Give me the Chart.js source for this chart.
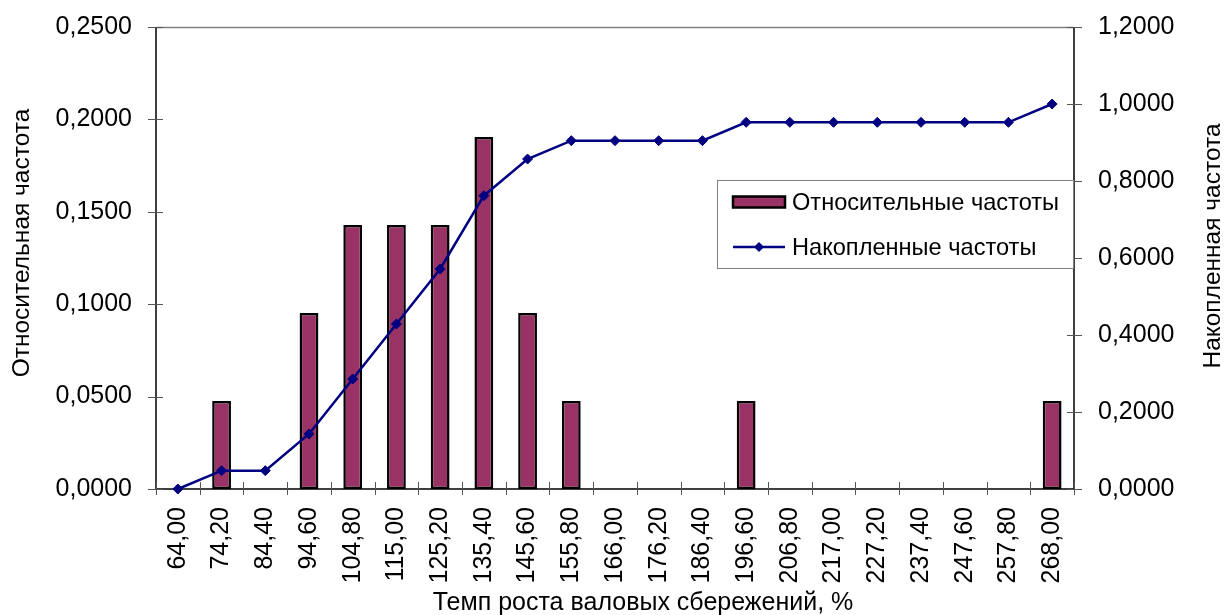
<!DOCTYPE html>
<html lang="ru">
<head>
<meta charset="utf-8">
<title>Относительные и накопленные частоты</title>
<script src="https://cdn.jsdelivr.net/npm/chart.js@4/dist/chart.umd.min.js"></script>
<style>
  html, body { margin: 0; padding: 0; background: #fff; }
  canvas { display: block; }
</style>
</head>
<body>
<canvas id="chart" width="1226" height="615"></canvas>
<script>
// Границы интервалов темпа роста, %
const categories = [
  '64,00', '74,20', '84,40', '94,60', '104,80', '115,00', '125,20',
  '135,40', '145,60', '155,80', '166,00', '176,20', '186,40', '196,60',
  '206,80', '217,00', '227,20', '237,40', '247,60', '257,80', '268,00'
];

// Относительные частоты (n = 21)
const relFreq = [
  0, 0.0476, 0, 0.0952, 0.1429, 0.1429, 0.1429,
  0.1905, 0.0952, 0.0476, 0, 0, 0, 0.0476,
  0, 0, 0, 0, 0, 0, 0.0476
];

// Накопленные частоты
const cumFreq = [
  0, 0.0476, 0.0476, 0.1429, 0.2857, 0.4286, 0.5714,
  0.7619, 0.8571, 0.9048, 0.9048, 0.9048, 0.9048, 0.9524,
  0.9524, 0.9524, 0.9524, 0.9524, 0.9524, 0.9524, 1.0
];

const leftTicks = { min: 0, max: 0.25, step: 0.05 };
const rightTicks = { min: 0, max: 1.2, step: 0.2 };

const seriesNames = ['Относительные частоты', 'Накопленные частоты'];
const axisTitles = {
  x: 'Темп роста валовых сбережений, %',
  y: 'Относительная частота',
  y1: 'Накопленная частота'
};

const FONT = '"Liberation Sans", Arial, sans-serif';
const BAR_FILL = '#993366';
const LINE_COLOR = '#000080';

const fmt = v => Number(v).toFixed(4).replace('.', ',');

// Оси, засечки, подписи осей и легенда в стиле Excel
const frameAndLegend = {
  id: 'frameAndLegend',
  beforeDatasetsDraw(chart) {
    const { ctx, chartArea: a, scales } = chart;
    ctx.save();
    // верхняя граница области построения
    ctx.strokeStyle = '#808080';
    ctx.lineWidth = 1.5;
    ctx.beginPath();
    ctx.moveTo(a.left, a.top + 0.5);
    ctx.lineTo(a.right, a.top + 0.5);
    ctx.stroke();
    // оси
    ctx.strokeStyle = '#000';
    ctx.lineWidth = 1.5;
    ctx.beginPath();
    ctx.moveTo(a.left, a.top);
    ctx.lineTo(a.left, a.bottom);
    ctx.moveTo(a.right, a.top);
    ctx.lineTo(a.right, a.bottom);
    ctx.moveTo(a.left, a.bottom);
    ctx.lineTo(a.right, a.bottom);
    ctx.stroke();
    // засечки
    ctx.strokeStyle = '#555';
    ctx.lineWidth = 1;
    ctx.beginPath();
    scales.y.ticks.forEach(t => {
      const y = Math.round(scales.y.getPixelForValue(t.value)) + 0.5;
      ctx.moveTo(a.left - 8, y);
      ctx.lineTo(a.left + 7, y);
    });
    scales.y1.ticks.forEach(t => {
      const y = Math.round(scales.y1.getPixelForValue(t.value)) + 0.5;
      ctx.moveTo(a.right - 7, y);
      ctx.lineTo(a.right + 8, y);
    });
    const n = categories.length;
    for (let i = 0; i <= n; i++) {
      const x = Math.round(a.left + (a.right - a.left) * i / n) + 0.5;
      ctx.moveTo(x, a.bottom - 7);
      ctx.lineTo(x, a.bottom + 6);
    }
    ctx.stroke();
    ctx.restore();
  },
  afterDraw(chart) {
    const { ctx, chartArea: a } = chart;
    ctx.save();
    ctx.fillStyle = '#000';
    ctx.textAlign = 'center';
    ctx.textBaseline = 'middle';
    // подпись оси X
    ctx.font = '25px ' + FONT;
    ctx.fillText(axisTitles.x, 643, 603);
    // подпись левой оси
    ctx.font = '24.5px ' + FONT;
    ctx.save();
    ctx.translate(22, 243);
    ctx.rotate(-Math.PI / 2);
    ctx.fillText(axisTitles.y, 0, 0);
    ctx.restore();
    // подпись правой оси
    ctx.save();
    ctx.translate(1213, 246);
    ctx.rotate(-Math.PI / 2);
    ctx.fillText(axisTitles.y1, 0, 0);
    ctx.restore();

    // легенда
    const L = { x: 717, y: 180, w: a.right - 718, h: 88 };
    ctx.fillStyle = '#fff';
    ctx.fillRect(L.x, L.y, L.w, L.h);
    ctx.strokeStyle = '#808080';
    ctx.lineWidth = 1;
    ctx.strokeRect(L.x + 0.5, L.y + 0.5, L.w, L.h);

    const row1 = L.y + 22, row2 = L.y + 67;
    const sx = L.x + 16, sw = 52;
    ctx.fillStyle = BAR_FILL;
    ctx.fillRect(sx, row1 - 5.5, sw, 11);
    ctx.strokeStyle = '#000';
    ctx.lineWidth = 2.5;
    ctx.strokeRect(sx, row1 - 5.5, sw, 11);

    ctx.strokeStyle = LINE_COLOR;
    ctx.lineWidth = 2.5;
    ctx.beginPath();
    ctx.moveTo(sx, row2);
    ctx.lineTo(sx + sw, row2);
    ctx.stroke();
    ctx.fillStyle = LINE_COLOR;
    const cx = sx + sw / 2, r = 5;
    ctx.beginPath();
    ctx.moveTo(cx, row2 - r);
    ctx.lineTo(cx + r, row2);
    ctx.lineTo(cx, row2 + r);
    ctx.lineTo(cx - r, row2);
    ctx.closePath();
    ctx.fill();

    ctx.fillStyle = '#000';
    ctx.font = '23.6px ' + FONT;
    ctx.textAlign = 'left';
    ctx.fillText(seriesNames[0], sx + sw + 7, row1 + 1);
    ctx.fillText(seriesNames[1], sx + sw + 7, row2 + 1);
    ctx.restore();
  }
};

const tickFont = { family: FONT, size: 25 };

// Фиксированные размеры осей, без дополнительных отступов под подписи
const fixSize = (w, h) => s => {
  if (w !== null) s.width = w;
  if (h !== null) s.height = h;
  s.paddingTop = 0;
  s.paddingBottom = 0;
};

new Chart(document.getElementById('chart'), {
  data: {
    labels: categories,
    datasets: [
      {
        type: 'line',
        label: seriesNames[1],
        data: cumFreq,
        yAxisID: 'y1',
        borderColor: LINE_COLOR,
        backgroundColor: LINE_COLOR,
        borderWidth: 2.5,
        pointStyle: 'rectRot',
        pointRadius: 5,
        pointBackgroundColor: LINE_COLOR,
        pointBorderColor: LINE_COLOR,
        pointBorderWidth: 1,
        tension: 0,
        clip: false,
        order: 0
      },
      {
        type: 'bar',
        label: seriesNames[0],
        data: relFreq,
        yAxisID: 'y',
        backgroundColor: BAR_FILL,
        borderColor: '#000',
        borderWidth: ctx => (ctx.raw ? 2.5 : 0),
        borderSkipped: false,
        barPercentage: 0.43,
        categoryPercentage: 1,
        order: 1
      }
    ]
  },
  options: {
    responsive: false,
    animation: false,
    devicePixelRatio: 1,
    layout: { padding: { top: 27, left: 0, right: 0, bottom: 0 } },
    plugins: {
      legend: { display: false },
      tooltip: { enabled: false }
    },
    scales: {
      x: {
        type: 'category',
        offset: true,
        grid: { display: false, drawTicks: false },
        border: { display: false },
        ticks: {
          color: '#000',
          font: tickFont,
          autoSkip: false,
          minRotation: 90,
          maxRotation: 90,
          padding: 18
        },
        afterFit: fixSize(null, 126)
      },
      y: {
        position: 'left',
        min: leftTicks.min,
        max: leftTicks.max,
        grid: { display: false, drawTicks: false },
        border: { display: false },
        ticks: {
          stepSize: leftTicks.step,
          color: '#000',
          font: tickFont,
          padding: 24,
          callback: v => fmt(v)
        },
        afterFit: fixSize(156, null)
      },
      y1: {
        position: 'right',
        min: rightTicks.min,
        max: rightTicks.max,
        grid: { display: false, drawTicks: false },
        border: { display: false },
        ticks: {
          stepSize: rightTicks.step,
          color: '#000',
          font: tickFont,
          padding: 24,
          callback: v => fmt(v)
        },
        afterFit: fixSize(152, null)
      }
    }
  },
  plugins: [frameAndLegend]
});
</script>
</body>
</html>
